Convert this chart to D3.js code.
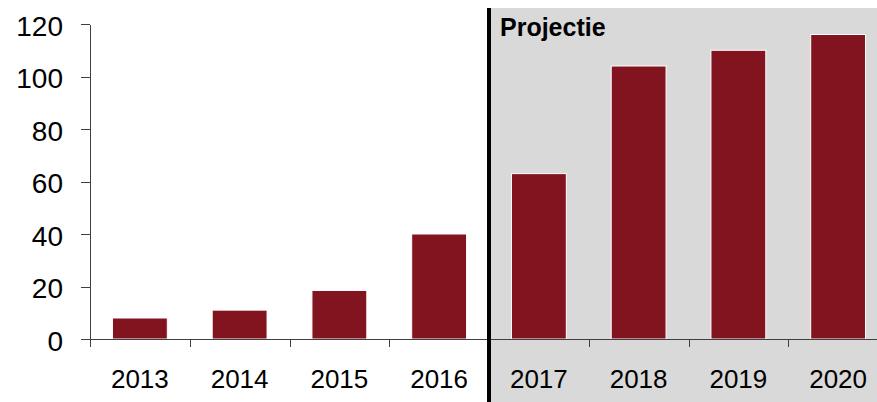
<!DOCTYPE html>
<html>
<head>
  <meta charset="UTF-8">
  <title>Projectie</title>
  <script src="https://d3js.org/d3.v7.min.js"></script>
  <style>
    body { margin: 0; background: #fff; }
    svg { display: block; font-family: "Liberation Sans", Arial, sans-serif; }
    .axis path, .axis line { stroke: #404040; shape-rendering: crispEdges; }
    .axis text { fill: #000; }
  </style>
</head>
<body>
  <div id="chart"></div>
  <script>
    // data
    const years = ["2013", "2014", "2015", "2016", "2017", "2018", "2019", "2020"];
    const values = [8, 11, 18.5, 40, 63, 104, 110, 116];
    const yTicks = [0, 20, 40, 60, 80, 100, 120];
    const projectionStart = "2017";
    const projectionLabel = "Projectie";

    const width = 877, height = 402;
    const plotLeft = 90, plotTop = 24, plotBottom = 339;

    const svg = d3.select("#chart")
      .append("svg")
      .attr("width", width)
      .attr("height", height);

    // band scale runs past the right edge like the cropped original
    const x = d3.scaleBand()
      .domain(years)
      .range([plotLeft, 888])
      .paddingInner(0.45)
      .paddingOuter(0.225);

    const y = d3.scaleLinear()
      .domain([0, 120])
      .range([plotBottom, plotTop]);

    const step = x.step();
    const boundary = d => x(d) - step * 0.225;

    // grey projection area
    const px = boundary(projectionStart);
    svg.append("rect")
      .attr("x", px)
      .attr("y", 8)
      .attr("width", width - px)
      .attr("height", height - 8)
      .attr("fill", "#d9d9d9");

    // bars
    svg.selectAll(".bar")
      .data(values)
      .enter().append("rect")
      .attr("class", "bar")
      .attr("x", (d, i) => x(years[i]))
      .attr("y", d => y(d))
      .attr("width", x.bandwidth())
      .attr("height", d => y(0) - y(d))
      .attr("fill", "#821420")
      .attr("stroke", "#fff")
      .attr("stroke-width", 1);

    // y axis
    svg.append("g")
      .attr("class", "axis")
      .attr("transform", `translate(${plotLeft},0)`)
      .call(d3.axisLeft(y).tickValues(yTicks).tickSize(9).tickPadding(18).tickSizeOuter(0))
      .call(g => g.selectAll("text").style("font-size", "28px").attr("dy", "0.4em"));

    // x axis line + labels
    svg.append("g")
      .attr("class", "axis")
      .attr("transform", `translate(0,${plotBottom})`)
      .call(d3.axisBottom(x).tickSize(0).tickPadding(31).tickSizeOuter(0))
      .call(g => g.select(".domain").attr("d", `M${plotLeft},0.5H${width}`))
      .call(g => g.selectAll("text").style("font-size", "26px"));

    // category separator ticks
    svg.append("g")
      .attr("class", "axis")
      .selectAll("line")
      .data(years)
      .enter().append("line")
      .attr("x1", d => Math.round(boundary(d)) + 0.5)
      .attr("x2", d => Math.round(boundary(d)) + 0.5)
      .attr("y1", plotBottom)
      .attr("y2", plotBottom + 8);

    // projection divider
    svg.append("line")
      .attr("x1", px)
      .attr("x2", px)
      .attr("y1", 8)
      .attr("y2", height)
      .attr("stroke", "#000")
      .attr("stroke-width", 4);

    svg.append("text")
      .attr("x", px + 11)
      .attr("y", 36)
      .style("font-size", "25px")
      .style("font-weight", "bold")
      .text(projectionLabel);
  </script>
</body>
</html>
